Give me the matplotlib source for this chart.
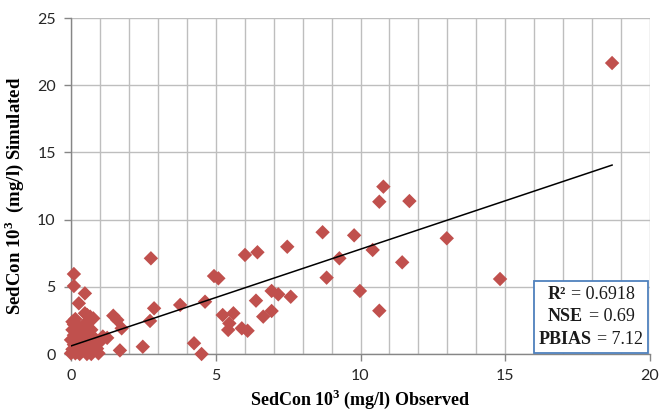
import matplotlib
matplotlib.use("Agg")
import matplotlib.pyplot as plt
import numpy as np
from matplotlib.offsetbox import TextArea, HPacker, VPacker, AnchoredOffsetbox

# Observed (x) and simulated (y) sediment concentration, 10^3 mg/l
observed = [
    0.00, 0.05, 0.10, 0.00, 0.10, 0.05, 0.10, 0.15, 0.20, 0.25, 0.20, 0.30, 0.25,
    0.35, 0.40, 0.45, 0.40, 0.50, 0.55, 0.60, 0.60, 0.65, 0.70, 0.75, 0.80, 0.85,
    0.90, 1.00, 0.95, 0.30, 0.15, 0.55, 0.05, 0.70, 1.10,
    0.10, 0.10, 0.48, 0.27, 0.48, 0.66, 0.56, 0.77, 1.46, 1.60, 1.75, 1.25, 1.69,
    2.48, 4.25, 4.51, 2.73, 2.87, 3.77, 4.63, 4.94, 5.09, 2.76, 6.01,
    5.24, 5.61, 5.47, 5.43, 5.90, 6.10, 6.39, 6.93, 7.16, 7.59, 6.64, 6.93,
    10.65, 9.98, 8.83, 14.82, 9.27, 10.42, 11.44, 6.44, 7.47, 8.69, 9.78, 12.98,
    10.65, 11.69, 10.79, 18.69,
]
simulated = [
    0.05, 0.35, 0.70, 1.05, 1.40, 1.80, 2.20, 0.05, 0.40, 0.90, 1.30, 1.70, 2.05,
    0.20, 0.60, 1.10, 1.50, 2.30, 0.00, 0.40, 0.90, 1.30, 1.80, 0.20, 0.70, 1.10,
    0.40, 0.90, 0.05, 0.00, 2.60, 2.00, 2.40, 0.00, 1.30,
    5.95, 5.06, 4.51, 3.77, 3.03, 2.78, 2.90, 2.65, 2.85, 2.53, 1.91, 1.20, 0.27,
    0.54, 0.80, 0.00, 2.46, 3.40, 3.65, 3.89, 5.80, 5.63, 7.12, 7.37,
    2.90, 3.03, 2.28, 1.79, 1.91, 1.73, 3.97, 4.69, 4.44, 4.26, 2.78, 3.20,
    3.22, 4.69, 5.68, 5.58, 7.12, 7.74, 6.82, 7.57, 7.98, 9.06, 8.83, 8.61,
    11.33, 11.38, 12.45, 21.65,
]

# Linear trendline
trend_slope = 0.72
trend_intercept = 0.60

stat_names = ["R\u00b2", "NSE", "PBIAS"]
stat_values = ["= 0.6918", "= 0.69", "= 7.12"]

x_ticks = [0, 5, 10, 15, 20]
y_ticks = [0, 5, 10, 15, 20, 25]

plt.rcParams["mathtext.fontset"] = "custom"
plt.rcParams["mathtext.rm"] = "Liberation Serif:bold"
plt.rcParams["mathtext.bf"] = "Liberation Serif:bold"

W, H = 663, 417
fig = plt.figure(figsize=(W / 100, H / 100), dpi=100)
left, right = 71 / W, 650 / W
bottom, top = 1 - 354 / H, 1 - 18 / H
ax = fig.add_axes([left, bottom, right - left, top - bottom])

ax.set_xlim(0, 20)
ax.set_ylim(0, 25)

grid_c = "#BEBEBE"
ax.set_xticks(x_ticks)
ax.set_yticks(y_ticks)
ax.set_xticks(np.arange(0, 21, 1), minor=True)
ax.grid(True, which="major", axis="y", color=grid_c, lw=1.0, zorder=0)
ax.grid(True, which="both", axis="x", color=grid_c, lw=1.0, zorder=0)
ax.tick_params(axis="x", which="minor", length=0)
ax.tick_params(axis="both", which="major", length=5, color="#868686", width=1.0,
               labelsize=11.5, labelcolor="#262626", pad=6)
for lab in ax.get_xticklabels() + ax.get_yticklabels():
    lab.set_family("Lato")
for s in ["top", "right"]:
    ax.spines[s].set_visible(False)
for s in ["left", "bottom"]:
    ax.spines[s].set_color("#868686")
    ax.spines[s].set_linewidth(1.0)

ax.scatter(observed, simulated, marker="D", s=54, color="#C0504D",
           edgecolors="none", zorder=3, clip_on=False)

xt = np.array([0, max(observed)])
ax.plot(xt, trend_slope * xt + trend_intercept, color="black", lw=1.1, zorder=4)

ax.set_xlabel("SedCon 10$^3$ (mg/l) Observed", family="Liberation Serif",
              fontweight="bold", fontsize=13, labelpad=3)
ax.set_ylabel("SedCon 10$^3$  (mg/l) Simulated", family="Liberation Serif",
              fontweight="bold", fontsize=13.5)
ax.yaxis.set_label_coords(-0.077, 0.47)

rows = []
for n, v in zip(stat_names, stat_values):
    a = TextArea(n, textprops=dict(family="Liberation Serif", fontweight="bold",
                                   fontsize=13, color="#1a1a1a"))
    b = TextArea(v, textprops=dict(family="Liberation Serif", fontsize=13,
                                   color="#1a1a1a"))
    rows.append(HPacker(children=[a, b], align="baseline", pad=0, sep=4))
box = VPacker(children=rows, align="center", pad=0, sep=4)
anch = AnchoredOffsetbox(loc="lower right", child=box, pad=0.35, borderpad=0,
                         bbox_to_anchor=(0.997, 0.004),
                         bbox_transform=ax.transAxes, frameon=True)
anch.patch.set_edgecolor("#4F81BD")
anch.patch.set_linewidth(1.3)
anch.patch.set_facecolor("white")
anch.zorder = 5
ax.add_artist(anch)

fig.savefig("out.png", dpi=100)
